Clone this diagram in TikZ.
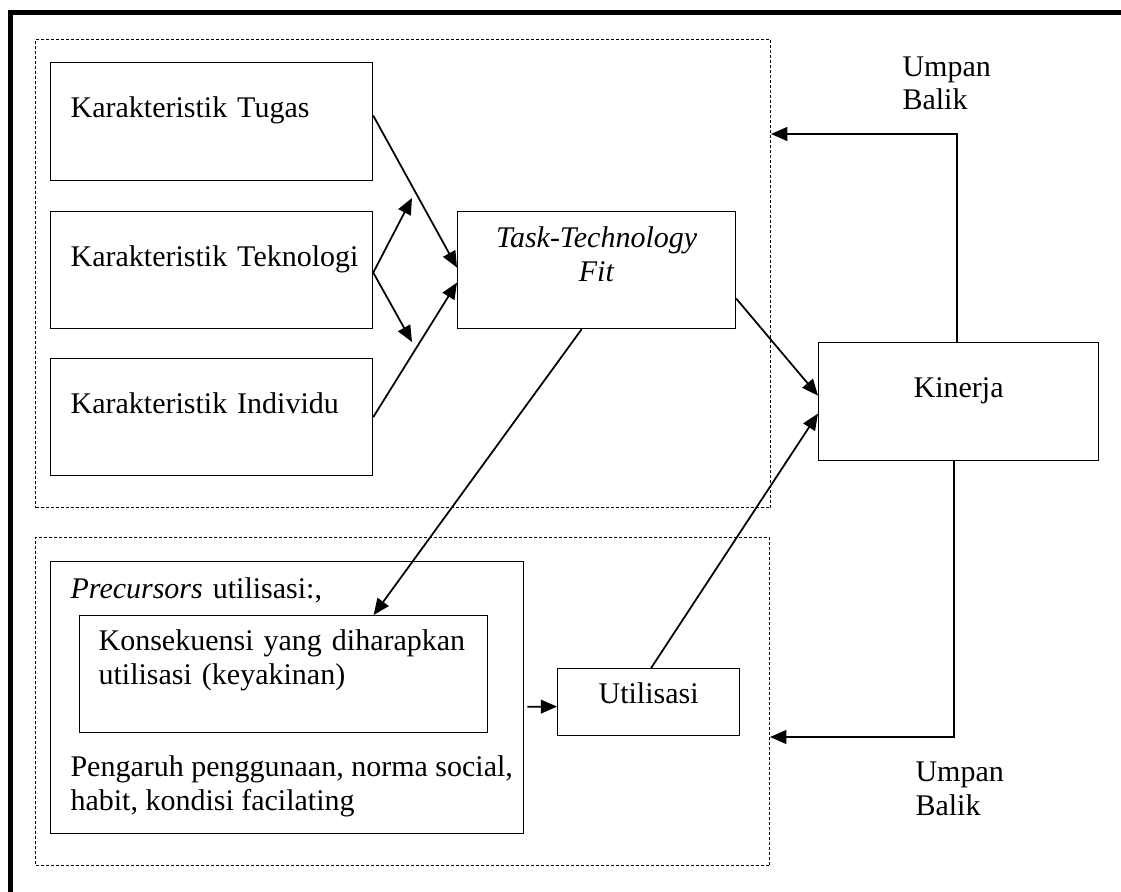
\documentclass[tikz,border=0pt]{standalone}
\usepackage{fontspec}
\setmainfont{Liberation Serif}
\usetikzlibrary{arrows.meta,positioning,calc}
\tikzset{
  kotak/.style={draw, line width=0.5pt, anchor=north west, inner ysep=0pt, inner xsep=8pt, align=left},
  tengah/.style={draw, line width=0.5pt, anchor=north west, inner sep=0pt, align=center},
  kelompok/.style={draw, line width=0.4pt, dash pattern=on 1.2pt off 0.8pt, anchor=north west, inner sep=0pt},
  teks/.style={anchor=base west, align=left, inner sep=0pt},
  panah/.style={line width=0.7pt, -{Triangle[length=6.5pt,width=5.5pt]}},
}

\begin{document}
\begin{tikzpicture}[x=0.4pt,y=-0.4pt,font=\fontsize{12}{13.5}\selectfont]
    \useasboundingbox (0,0) rectangle (1121,892);
    \draw[line width=2pt] (10.5,892) -- (10.5,12.5) -- (1121,12.5);
    \node[kelompok, minimum width=294pt, minimum height=187.2pt] (atas) at (35,39) {};
    \node[kelompok, minimum width=293.6pt, minimum height=131.2pt] (bawah) at (35,537) {};
		\node[kotak, text width=112.8pt, text height=22pt, text depth=25.2pt] (tugas) at (50,62) {Karakteristik Tugas};
		\node[kotak, text width=112.8pt, text height=22pt, text depth=24.8pt] (teknologi) at (50,211) {\mbox{Karakteristik Teknologi}};
		\node[kotak, text width=112.8pt, text height=22pt, text depth=24.8pt] (individu) at (50,358) {Karakteristik Individu};
		\node[tengah, text width=111.2pt, text height=14.4pt, text depth=32.4pt] (ttf) at (457,211) {\textit{Task-Technology}\\ \textit{Fit}};
		\node[tengah, text width=112pt, text height=22pt, text depth=25.2pt] (kinerja) at (818,342) {Kinerja};
		\node[kotak, text width=173.2pt, text height=14.8pt, text depth=94pt] (precursors) at (50,561) {\textit{Precursors} utilisasi:,};
		\node[kotak, inner xsep=7.6pt, text width=148pt, text height=14pt, text depth=32.8pt] (konsekuensi) at (79,615) {Konsekuensi yang diharapkan\\ utilisasi (keyakinan)};
		\node[tengah, text width=72.8pt, text height=14pt, text depth=12.8pt] (utilisasi) at (557,668) {Utilisasi};
		\node[teks] (pengaruh) at (70,810) {Pengaruh penggunaan, norma social,\\ habit, kondisi facilating};
		\node[teks] (umpan1) at (902,110) {Umpan\\ Balik};
		\node[teks] (umpan2) at (915,815) {Umpan\\ Balik};
    \coordinate (cabang1) at (412,198);
    \coordinate (cabang2) at (412,342);
    \draw[panah] ([yshift=2.4pt]tugas.east) -- ([yshift=1pt]ttf.west);
    \draw[panah] ([yshift=-1pt]teknologi.east) -- (cabang1);
    \draw[panah] ([yshift=-1pt]teknologi.east) -- (cabang2);
    \draw[panah] (individu.east) -- ([yshift=-5pt]ttf.west);
    \draw[panah] ([yshift=-11.4pt]ttf.east) -- ([yshift=2.4pt]kinerja.west);
    \draw[panah] ([xshift=1pt]utilisasi.north) -- ([yshift=-4.8pt]kinerja.west);
    \draw[panah] ([xshift=-6pt]ttf.south) -- ([xshift=36pt]konsekuensi.north);
    \draw[panah] ([xshift=1.2pt,yshift=-3.6pt]precursors.east) -- ([yshift=-1.8pt]utilisasi.west);
    \draw[panah] ([xshift=-0.8pt]kinerja.north) |- (atas.east |- 0,134);
    \draw[panah] ([xshift=-2pt]kinerja.south) |- (bawah.east |- 0,737);
\end{tikzpicture}
\end{document}
